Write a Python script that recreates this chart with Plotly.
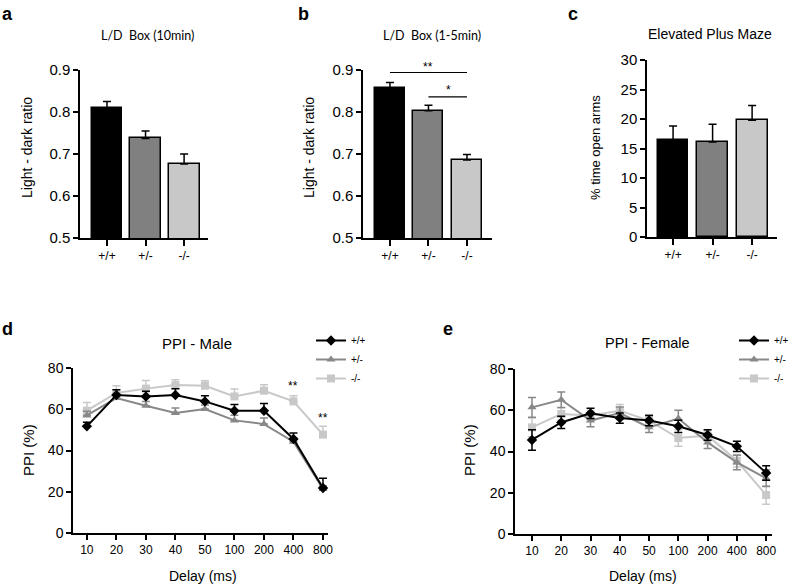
import plotly.graph_objects as go

W, H = 793, 585

genotypes = ["+/+", "+/-", "-/-"]
bar_colors = ["#000000", "#808080", "#c8c8c8"]

# Panel a: L/D Box (10min)
ld10_mean = [0.810, 0.737, 0.676]
ld10_err = [0.015, 0.018, 0.024]
# Panel b: L/D Box (1-5min)
ld15_mean = [0.857, 0.803, 0.686]
ld15_err = [0.013, 0.013, 0.013]
# Panel c: Elevated plus maze
epm_mean = [16.5, 16.1, 19.8]
epm_err = [2.3, 3.0, 2.5]

delays = ["10", "20", "30", "40", "50", "100", "200", "400", "800"]

male_wt = [51.7, 66.9, 66.2, 66.9, 63.8, 59.3, 59.3, 45.6, 21.8]
male_wt_err = [2.0, 2.5, 2.5, 3.0, 2.8, 3.0, 3.5, 2.9, 4.8]
male_het = [57.0, 65.4, 61.7, 58.2, 60.1, 54.6, 52.8, 44.3, 21.3]
male_het_err = [2.0, 1.5, 2.0, 2.4, 2.0, 2.5, 2.9, 1.5, 1.5]
male_ko = [59.3, 67.9, 70.0, 71.7, 71.4, 66.2, 69.0, 63.8, 47.7]
male_ko_err = [4.0, 3.5, 4.0, 2.6, 2.4, 3.6, 2.9, 2.8, 4.0]

fem_wt = [45.6, 54.1, 58.5, 56.2, 55.0, 52.2, 48.0, 42.5, 29.6]
fem_wt_err = [5.0, 3.0, 2.5, 2.5, 2.5, 3.0, 2.5, 2.5, 3.5]
fem_het = [61.4, 65.1, 55.0, 58.6, 51.7, 56.0, 44.4, 34.7, 27.0]
fem_het_err = [4.8, 3.8, 3.0, 3.0, 2.5, 4.0, 3.0, 3.5, 4.0]
fem_ko = [51.7, 58.2, 57.4, 59.8, 55.0, 46.5, 47.7, 35.5, 18.9]
fem_ko_err = [4.5, 3.0, 2.5, 3.0, 3.0, 4.0, 2.5, 3.0, 4.5]

line_colors = ["#000000", "#888888", "#c8c8c8"]
symbols = ["diamond", "triangle-up", "square"]

ARIAL = "Liberation Sans, Arial, sans-serif"


def dx(a, b):
    return [a / W, b / W]


def dy(top, bottom):
    return [1 - bottom / H, 1 - top / H]


fig = go.Figure()

# ---- bar panels ----
bar_panels = [
    ("x", "y", ld10_mean, ld10_err, 0.80),
    ("x2", "y2", ld15_mean, ld15_err, 0.78),
    ("x3", "y3", epm_mean, epm_err, 0.78),
]
for xa, ya, mean, err, bw in bar_panels:
    fig.add_trace(go.Bar(
        x=[0, 1, 2], y=mean, xaxis=xa, yaxis=ya, width=bw,
        marker=dict(color=bar_colors, line=dict(color="black", width=1.5)),
        error_y=dict(type="data", array=err, arrayminus=[0, 0, 0], symmetric=False,
                     color="black", thickness=1.5, width=4),
        showlegend=False, hoverinfo="skip",
    ))

# ---- line panels ----
male = [(male_wt, male_wt_err), (male_het, male_het_err), (male_ko, male_ko_err)]
fem = [(fem_wt, fem_wt_err), (fem_het, fem_het_err), (fem_ko, fem_ko_err)]
order = [2, 1, 0]  # draw light first so black on top
for i in order:
    m, e = male[i]
    fig.add_trace(go.Scatter(
        x=list(range(len(delays))), y=m, xaxis="x4", yaxis="y4", mode="lines+markers",
        line=dict(color=line_colors[i], width=2),
        marker=dict(symbol=symbols[i], size=8, color=line_colors[i]),
        error_y=dict(type="data", array=e, arrayminus=[0] * len(e), symmetric=False,
                     color=line_colors[i] if i else "black", thickness=1.5, width=4),
        name=genotypes[i], legend="legend", legendrank=i + 1, hoverinfo="skip",
    ))
for i in order:
    m, e = fem[i]
    fig.add_trace(go.Scatter(
        x=list(range(len(delays))), y=m, xaxis="x5", yaxis="y5", mode="lines+markers",
        line=dict(color=line_colors[i], width=2),
        marker=dict(symbol=symbols[i], size=8, color=line_colors[i]),
        error_y=dict(type="data", array=e, color=line_colors[i] if i else "black",
                     thickness=1.5, width=4),
        name=genotypes[i], legend="legend2", legendrank=i + 1, hoverinfo="skip",
    ))

axis_common = dict(showline=True, linecolor="black", linewidth=1.5, ticks="outside",
                   tickcolor="black", ticklen=5, tickwidth=1.5, showgrid=False,
                   zeroline=False, tickfont=dict(family=ARIAL, size=15, color="black"))

def bar_xaxis(domain, rng, anchor):
    return dict(axis_common, domain=domain, range=rng, anchor=anchor,
                tickmode="array", tickvals=[0, 1, 2], ticktext=genotypes,
                tickfont=dict(family=ARIAL, size=12, color="black"), ticklen=6)

line_ytick = dict(family=ARIAL, size=14, color="black")
line_xtick = dict(family=ARIAL, size=12, color="black")

layout = dict(
    width=W, height=H, margin=dict(l=0, r=0, t=0, b=0, pad=0, autoexpand=False),
    paper_bgcolor="white", plot_bgcolor="white", bargap=0,
    xaxis=bar_xaxis(dx(80, 208), [-0.70, 2.62], "y"),
    yaxis=dict(axis_common, domain=dy(70, 238), range=[0.5, 0.9], anchor="x",
               tickvals=[0.5, 0.6, 0.7, 0.8, 0.9], tickformat=".1f"),
    xaxis2=bar_xaxis(dx(363, 492), [-0.70, 2.65], "y2"),
    yaxis2=dict(axis_common, domain=dy(70, 238), range=[0.5, 0.9], anchor="x2",
                tickvals=[0.5, 0.6, 0.7, 0.8, 0.9], tickformat=".1f"),
    xaxis3=bar_xaxis(dx(647, 777), [-0.66, 2.63], "y3"),
    yaxis3=dict(axis_common, domain=dy(60, 237), range=[0, 30], anchor="x3",
                tickvals=[0, 5, 10, 15, 20, 25, 30]),
    xaxis4=dict(axis_common, domain=dx(73, 328), range=[-0.47, 8.17], anchor="y4",
                tickmode="array", tickvals=list(range(9)), ticktext=delays,
                tickfont=line_xtick),
    yaxis4=dict(axis_common, domain=dy(368, 533), range=[0, 80], anchor="x4",
                tickvals=[0, 20, 40, 60, 80], tickfont=line_ytick),
    xaxis5=dict(axis_common, domain=dx(515, 772), range=[-0.58, 8.2], anchor="y5",
                tickmode="array", tickvals=list(range(9)), ticktext=delays,
                tickfont=line_xtick),
    yaxis5=dict(axis_common, domain=dy(369, 534), range=[0, 80], anchor="x5",
                tickvals=[0, 20, 40, 60, 80], tickfont=line_ytick),
    legend=dict(x=311 / W, y=1 - 326 / H, xanchor="left", yanchor="top",
                bgcolor="rgba(0,0,0,0)", font=dict(family=ARIAL, size=10, color="black"),
                tracegroupgap=0, itemwidth=30),
    legend2=dict(x=734 / W, y=1 - 326 / H, xanchor="left", yanchor="top",
                 bgcolor="rgba(0,0,0,0)", font=dict(family=ARIAL, size=10, color="black"),
                 tracegroupgap=0, itemwidth=30),
)
fig.update_layout(**layout)

ann = []
def text(x, y, s, size, family=ARIAL, bold=False, angle=0, xanchor="center"):
    ann.append(dict(x=x / W, y=1 - y / H, xref="paper", yref="paper", text=f"<b>{s}</b>" if bold else s,
                    showarrow=False, textangle=angle, xanchor=xanchor, yanchor="middle",
                    font=dict(family=family, size=size, color="black")))

# panel letters
text(0, 14, "a", 18, bold=True, xanchor="left")
text(296, 14, "b", 18, bold=True, xanchor="left")
text(566, 14, "c", 18, bold=True, xanchor="left")
text(0, 329, "d", 18, bold=True, xanchor="left")
text(441, 329, "e", 18, bold=True, xanchor="left")
# titles
text(147, 35, "L/D  Box (10min)", 12.5, family="Lato, sans-serif")
text(432, 35, "L/D  Box (1-5min)", 12.5, family="Lato, sans-serif")
text(710, 34, "Elevated Plus Maze", 14)
text(197, 343, "PPI - Male", 15)
text(647, 343, "PPI - Female", 14.5)
# y axis titles
text(27, 148, "Light - dark ratio", 14, angle=-90)
text(309, 148, "Light - dark ratio", 14, angle=-90)
text(595, 148, "% time open arms", 13, angle=-90)
text(28, 450, "PPI (%)", 15, angle=-90)
text(469, 450, "PPI (%)", 15, angle=-90)
# x axis titles
text(203, 576, "Delay (ms)", 14)
text(643, 576, "Delay (ms)", 14)
# significance in b (paper coords, above plot range)
text(428, 67, "**", 12)
text(448, 90, "*", 12)

# significance lines in b
fig.add_shape(type="line", xref="x2", yref="y2", x0=0, x1=2, y0=0.894, y1=0.894,
              line=dict(color="black", width=1.2))
fig.add_shape(type="line", xref="x2", yref="y2", x0=1, x1=2, y0=0.836, y1=0.836,
              line=dict(color="black", width=1.2))
# significance in d
ann.append(dict(x=7, y=71.5, xref="x4", yref="y4", text="**", showarrow=False,
                font=dict(family=ARIAL, size=12, color="black")))
ann.append(dict(x=8, y=56, xref="x4", yref="y4", text="**", showarrow=False,
                font=dict(family=ARIAL, size=12, color="black")))

fig.update_layout(annotations=ann)
fig.write_html("out.html", config={"displayModeBar": False},
               post_script="document.body.style.margin='0';document.body.style.padding='0';")
